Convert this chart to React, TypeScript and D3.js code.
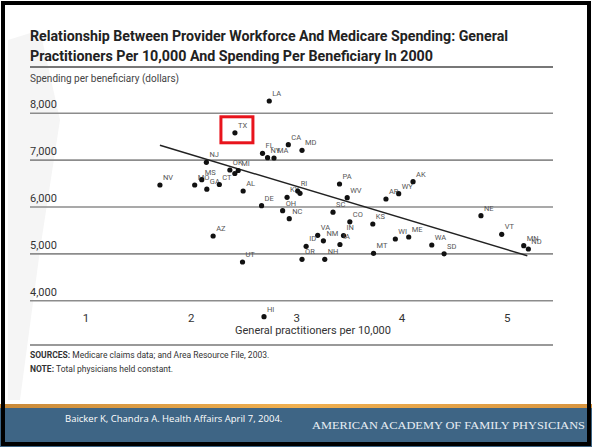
import React from 'react';
import * as d3 from 'd3';

const states = ['LA','TX','CA','MD','FL','NY','MA','NJ','OK','IL','MI','NV','MO','MS','GA','CT','AL','DE','KY','RI','TN','PA','WV','AR','WY','AK','OH','NC','SC','CO','KS','IN','IA','VA','NM','ID','OR','NH','MT','WI','ME','WA','SD','NE','VT','MN','ND','UT','AZ','HI'];
const gpPer10k = [2.74,2.414,2.921,3.051,2.676,2.724,2.785,2.143,2.366,2.413,2.445,1.702,2.032,2.099,2.147,2.266,2.492,2.667,2.909,3.010,3.032,3.407,3.480,3.848,3.969,4.105,2.867,2.930,3.345,3.505,3.723,3.445,3.411,3.200,3.254,3.090,3.051,3.267,3.730,3.937,4.064,4.283,4.400,4.750,4.947,5.156,5.200,2.486,2.207,2.690];
const spending = [8263,7584,7330,7210,7146,7052,7046,6954,6790,6715,6779,6470,6470,6583,6380,6480,6341,6028,6207,6341,6292,6491,6198,6171,6284,6540,5921,5750,5889,5684,5637,5392,5200,5396,5279,5161,4884,4884,5012,5317,5360,5189,5001,5814,5417,5174,5103,4826,5381,3658];
const unlabeled = ['IL','TN'];
const yTicks = [4000,5000,6000,7000,8000];
const xTicks = [1,2,3,4,5];
const trendX = [1.702, 5.19];
const trendY = [7317, 4960];
const highlighted = 'TX';

const titleLines = [
  'Relationship Between Provider Workforce And Medicare Spending: General',
  'Practitioners Per 10,000 And Spending Per Beneficiary In 2000',
];

export default function App() {
  const W = 592, H = 447;
  const x = d3.scaleLinear().domain([1, 5]).range([86, 507.3]);
  const y = d3.scaleLinear().domain([4000, 8000]).range([300.7, 113.3]);
  const left = 30, right = 553;
  const points = states.map((s, i) => ({ s, gx: gpPer10k[i], sp: spending[i] }));
  const line = d3.line<number>().x((d, i) => x(trendX[i])).y((d, i) => y(trendY[i]));
  const tx = points.find(p => p.s === highlighted)!;
  const sans = 'Roboto, "Liberation Sans", Arial, sans-serif';
  const narrow = '"Liberation Sans Narrow", "Roboto", Arial, sans-serif';
  return (
    <div style={{ position: 'absolute', left: 0, top: 0 }}>
      <svg width={W} height={H} style={{ display: 'block' }}>
        <rect x={0} y={0} width={W} height={H} fill="#fff" />
        {/* faint watermark */}
        <path d="M8,40 L40,30 L60,120 L40,250 L20,400 L8,400 Z" fill="#f5f5f5" />
        {titleLines.map((t, i) => (
          <text key={i} x={left} y={41 + i * 20} fontFamily={narrow} fontWeight="bold" fontSize={15.5}
            fill="#222" textLength={i === 0 ? 478 : 403} lengthAdjust="spacingAndGlyphs">{t}</text>
        ))}
        <line x1={left} x2={right} y1={67} y2={67} stroke="#777" strokeWidth={2} />
        <text x={left} y={82} fontFamily={sans} fontSize={10} fill="#444">Spending per beneficiary (dollars)</text>
        {yTicks.map(t => (
          <g key={t}>
            <line x1={left} x2={right} y1={y(t)} y2={y(t)} stroke="#8c8c8c" strokeWidth={1.6} />
            <text x={left} y={y(t) - 5} fontFamily={sans} fontSize={11} fill="#333">{d3.format(',')(t)}</text>
          </g>
        ))}
        {xTicks.map(t => (
          <text key={t} x={x(t)} y={322} textAnchor="middle" fontFamily={sans} fontSize={11.5} fill="#333">{t}</text>
        ))}
        <text x={313} y={334} textAnchor="middle" fontFamily={sans} fontSize={11} fill="#333">General practitioners per 10,000</text>
        <line x1={left} x2={right} y1={345} y2={345} stroke="#777" strokeWidth={1.5} />
        <text x={left} y={358} fontFamily={sans} fontSize={8.5} fill="#333"><tspan fontWeight="bold">SOURCES:</tspan> Medicare claims data; and Area Resource File, 2003.</text>
        <text x={left} y={372} fontFamily={sans} fontSize={8.5} fill="#333"><tspan fontWeight="bold">NOTE:</tspan> Total physicians held constant.</text>
        <path d={line([0, 1]) || ''} stroke="#222" strokeWidth={1.5} fill="none" />
        {points.map(p => (
          <g key={p.s}>
            <circle cx={x(p.gx)} cy={y(p.sp)} r={2.6} fill="#111" />
            {!unlabeled.includes(p.s) && (
              <text x={x(p.gx) + 3} y={y(p.sp) - 5} fontFamily={narrow} fontSize={7.5} fill="#555">{p.s}</text>
            )}
          </g>
        ))}
        <rect x={x(tx.gx) - 14} y={y(tx.sp) - 16} width={32} height={26} fill="none" stroke="#e8141c" strokeWidth={3} />
        {/* footer */}
        <defs>
          <linearGradient id="og" x1="0" x2="1" y1="0" y2="0">
            <stop offset="0" stopColor="#c98a3a" />
            <stop offset="0.5" stopColor="#f0b050" />
            <stop offset="1" stopColor="#d89540" />
          </linearGradient>
        </defs>
        <rect x={0} y={404} width={W} height={4} fill="url(#og)" />
        <rect x={0} y={408} width={W} height={39} fill="#3e6585" />
        <text x={65} y={422} fontFamily='"Open Sans", sans-serif' fontSize={9.5} fill="#fff">Baicker K, Chandra A. Health Affairs April 7, 2004.</text>
        <text x={312} y={429} fontFamily='"Liberation Serif", "DejaVu Serif", serif' fontSize={11} fill="#e8eef4" textLength={273} lengthAdjust="spacingAndGlyphs">AMERICAN ACADEMY OF FAMILY PHYSICIANS</text>
        <rect x={3} y={3} width={586} height={441} fill="none" stroke="#000" strokeWidth={4} />
      </svg>
    </div>
  );
}
